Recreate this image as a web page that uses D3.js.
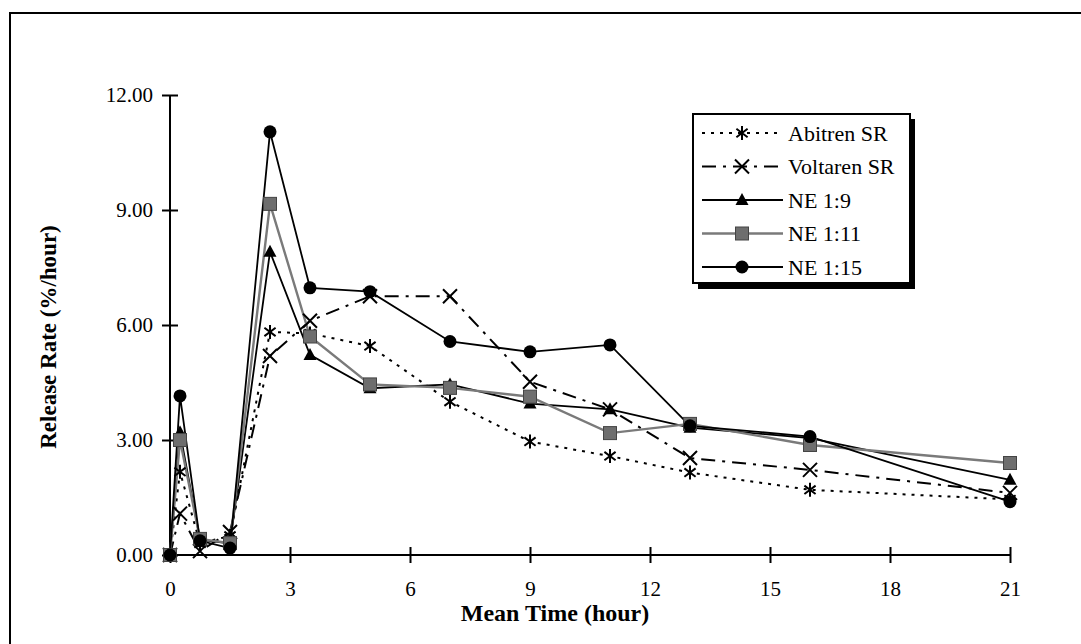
<!DOCTYPE html>
<html><head><meta charset="utf-8">
<script src="https://cdn.jsdelivr.net/npm/d3@7"></script>
<style>body{margin:0;background:#fff}svg{display:block}</style>
</head><body>
<svg id="c" width="1081" height="644"></svg>
<script>
const times = [0, 0.25, 0.75, 1.5, 2.5, 3.5, 5, 7, 9, 11, 13, 16, 21];
const abitren  = [0, 2.17, 0.3, 0.5, 5.82, 5.78, 5.45, 4.0, 2.96, 2.58, 2.15, 1.70, 1.45];
const voltaren = [0, 1.08, 0.1, 0.6, 5.19, 6.11, 6.75, 6.75, 4.52, 3.80, 2.53, 2.22, 1.62];
const ne19  = [0, 3.2, 0.4, 0.3, 7.91, 5.22, 4.35, 4.45, 3.95, 3.80, 3.32, 3.05, 1.96];
const ne111 = [0, 3.0, 0.42, 0.31, 9.16, 5.70, 4.45, 4.36, 4.13, 3.18, 3.42, 2.87, 2.40];
const ne115 = [0, 4.15, 0.37, 0.18, 11.04, 6.97, 6.87, 5.57, 5.30, 5.48, 3.37, 3.09, 1.39];
const seriesNames = ["Abitren SR", "Voltaren SR", "NE 1:9", "NE 1:11", "NE 1:15"];
const xTicks = [0, 3, 6, 9, 12, 15, 18, 21];
const yTicks = [0, 3, 6, 9, 12];

const svg = d3.select("#c");
const serif = "'Liberation Serif','Times New Roman',serif";

// outer border
svg.append("rect").attr("x", 10).attr("y", 13).attr("width", 1100).attr("height", 700)
  .attr("fill", "none").attr("stroke", "#000").attr("stroke-width", 2);

const x = d3.scaleLinear().domain([0, 21]).range([170, 1010]);
const y = d3.scaleLinear().domain([0, 12]).range([555, 95]);

// y axis
const ya = svg.append("g").attr("transform", "translate(170,0)")
  .call(d3.axisLeft(y).tickValues(yTicks).tickFormat(d3.format(".2f")).tickSize(8).tickPadding(9));
ya.select(".domain").attr("stroke-width", 2).attr("d", `M0,${y(12)}V${y(0)}`);
ya.selectAll(".tick line").attr("x1", 8).attr("x2", -8).attr("stroke-width", 2);
ya.selectAll("text").attr("font-family", serif).attr("font-size", 21).attr("fill", "#000");

// x axis
const xa = svg.append("g").attr("transform", "translate(0,555)")
  .call(d3.axisBottom(x).tickValues(xTicks).tickFormat(d3.format("d")).tickSize(8));
xa.select(".domain").attr("stroke-width", 2).attr("d", `M${x(0)},0H${x(21)}`);
xa.selectAll(".tick line").attr("y1", -8).attr("y2", 8).attr("stroke-width", 2);
xa.selectAll("text").attr("font-family", serif).attr("font-size", 21).attr("fill", "#000")
  .attr("y", 26).attr("dy", "0.71em");

// axis titles
svg.append("text").attr("x", 555).attr("y", 621).attr("text-anchor", "middle")
  .attr("font-family", serif).attr("font-weight", "bold").attr("font-size", 24)
  .text("Mean Time (hour)");
svg.append("text").attr("transform", "translate(56,337) rotate(-90)").attr("text-anchor", "middle")
  .attr("font-family", serif).attr("font-weight", "bold").attr("font-size", 23)
  .text("Release Rate (%/hour)");

// series styles
const styles = [
  {vals: abitren, color: "#000", dash: "3,6", marker: "asterisk", lw: 2},
  {vals: voltaren, color: "#000", dash: "14,7,3,7", marker: "x", lw: 2},
  {vals: ne19, color: "#000", dash: null, marker: "triangle", lw: 1.8},
  {vals: ne111, color: "#7a7a7a", dash: null, marker: "square", lw: 2.4},
  {vals: ne115, color: "#000", dash: null, marker: "circle", lw: 1.8},
];

function drawMarker(g, type, cx, cy, color) {
  if (type === "asterisk") {
    const s = 7;
    g.append("path").attr("d", `M${cx},${cy-s}V${cy+s}M${cx-s*0.8},${cy-s*0.6}L${cx+s*0.8},${cy+s*0.6}M${cx-s*0.8},${cy+s*0.6}L${cx+s*0.8},${cy-s*0.6}`)
      .attr("stroke", "#000").attr("stroke-width", 2).attr("fill", "none");
  } else if (type === "x") {
    const s = 7;
    g.append("path").attr("d", `M${cx-s},${cy-s}L${cx+s},${cy+s}M${cx-s},${cy+s}L${cx+s},${cy-s}`)
      .attr("stroke", "#000").attr("stroke-width", 2).attr("fill", "none");
  } else if (type === "triangle") {
    g.append("path").attr("d", `M${cx},${cy-7}L${cx+6.5},${cy+5}L${cx-6.5},${cy+5}Z`).attr("fill", "#000");
  } else if (type === "square") {
    g.append("rect").attr("x", cx-6.5).attr("y", cy-6.5).attr("width", 13).attr("height", 13)
      .attr("fill", "#6e6e6e").attr("stroke", "#444").attr("stroke-width", 1);
  } else if (type === "circle") {
    g.append("circle").attr("cx", cx).attr("cy", cy).attr("r", 6.5).attr("fill", "#000");
  }
}

const line = d3.line().x((d, i) => x(times[i])).y(d => y(d));
const plot = svg.append("g");
styles.forEach(st => {
  plot.append("path").attr("d", line(st.vals)).attr("fill", "none")
    .attr("stroke", st.color).attr("stroke-width", st.lw)
    .attr("stroke-dasharray", st.dash);
});
styles.forEach(st => {
  const g = plot.append("g");
  st.vals.forEach((v, i) => drawMarker(g, st.marker, x(times[i]), y(v), st.color));
});

// legend
const lg = svg.append("g");
lg.append("rect").attr("x", 698).attr("y", 119).attr("width", 217).attr("height", 170).attr("fill", "#000");
lg.append("rect").attr("x", 693).attr("y", 114).attr("width", 217).attr("height", 169)
  .attr("fill", "#fff").attr("stroke", "#000").attr("stroke-width", 2);
seriesNames.forEach((name, i) => {
  const st = styles[i];
  const cy = 133 + i * 33.5;
  lg.append("line").attr("x1", 702).attr("x2", 783).attr("y1", cy).attr("y2", cy)
    .attr("stroke", st.color).attr("stroke-width", st.lw).attr("stroke-dasharray", st.dash);
  drawMarker(lg, st.marker, 742, cy, st.color);
  lg.append("text").attr("x", 788).attr("y", cy).attr("dy", "0.35em")
    .attr("font-family", serif).attr("font-size", 22).text(name);
});
</script>
</body></html>
